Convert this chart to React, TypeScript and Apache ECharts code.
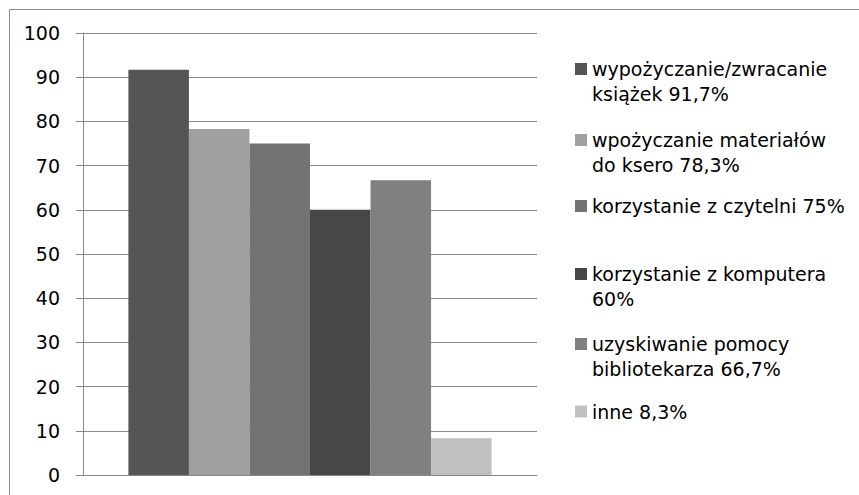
import React, { useEffect, useRef } from "react";
import * as echarts from "echarts";

const categories = [""];
const seriesNames = [
  "wypożyczanie/zwracanie książek 91,7%",
  "wpożyczanie materiałów do ksero 78,3%",
  "korzystanie z czytelni 75%",
  "korzystanie z komputera 60%",
  "uzyskiwanie pomocy bibliotekarza 66,7%",
  "inne 8,3%",
];
const legendLabels = [
  "wypożyczanie/zwracanie\nksiążek 91,7%",
  "wpożyczanie materiałów\ndo ksero 78,3%",
  "korzystanie z czytelni 75%",
  "korzystanie z komputera\n60%",
  "uzyskiwanie pomocy\nbibliotekarza 66,7%",
  "inne 8,3%",
];
const seriesValues = [91.7, 78.3, 75, 60, 66.7, 8.3];
const seriesColors = ["#555555", "#a0a0a0", "#737373", "#474747", "#808080", "#c0c0c0"];
const yMin = 0;
const yMax = 100;
const yInterval = 10;

const FONT = "DejaVu Sans";
const FS = 19;
const LH = 24.5;
const legendIconCenters = [69, 140, 206, 274, 344, 411.5];

export default function App() {
  const ref = useRef<HTMLDivElement>(null);
  useEffect(() => {
    if (!ref.current) return;
    const chart = echarts.init(ref.current, null, { renderer: "svg" });
    const legends = seriesNames.map((name, i) => {
      const twoLine = legendLabels[i].indexOf("\n") >= 0;
      const shown = twoLine ? " \n" + legendLabels[i] : legendLabels[i];
      const offset = twoLine ? (3 * LH) / 2 : LH / 2;
      return {
        data: [name],
        orient: "vertical",
        left: 575,
        top: legendIconCenters[i] - offset,
        padding: 0,
        itemWidth: 12,
        itemHeight: 12,
        icon: "rect",
        selectedMode: false,
        formatter: () => shown,
        textStyle: {
          fontFamily: FONT,
          fontSize: FS,
          color: "#000",
          lineHeight: LH,
        },
      };
    });
    chart.setOption({
      animation: false,
      backgroundColor: "#fff",
      textStyle: { fontFamily: FONT },
      grid: { left: 83, top: 33, width: 454, height: 442, containLabel: false },
      xAxis: {
        type: "category",
        data: categories,
        axisLine: { show: true, lineStyle: { color: "#888", width: 1 } },
        axisTick: { show: false },
        axisLabel: { show: false },
        splitLine: { show: false },
      },
      yAxis: {
        type: "value",
        min: yMin,
        max: yMax,
        interval: yInterval,
        axisLine: { show: true, lineStyle: { color: "#888", width: 1 } },
        axisTick: { show: true, inside: false, length: 7, lineStyle: { color: "#888" } },
        axisLabel: { margin: 23, color: "#000", fontFamily: FONT, fontSize: FS },
        splitLine: { show: true, lineStyle: { color: "#888", width: 1 } },
      },
      legend: legends,
      graphic: [
        {
          type: "rect",
          shape: { x: 9.5, y: 9.5, width: 900, height: 600 },
          style: { fill: "none", stroke: "#8c8c8c", lineWidth: 1 },
          silent: true,
        },
      ],
      series: seriesNames.map((name, i) => ({
        type: "bar",
        name,
        data: [seriesValues[i]],
        barGap: "0%",
        barCategoryGap: "20%",
        itemStyle: { color: seriesColors[i] },
      })),
    });
    return () => chart.dispose();
  }, []);
  return (
    <div
      ref={ref}
      style={{ position: "fixed", left: 0, top: 0, width: 859, height: 495 }}
    />
  );
}
